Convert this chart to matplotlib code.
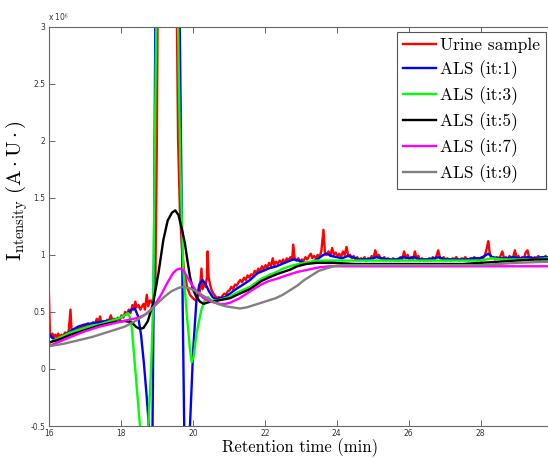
import matplotlib
matplotlib.use("Agg")
import matplotlib.pyplot as plt

plt.rcParams["mathtext.fontset"] = "cm"

# ---- Chromatogram and baseline estimates (intensity in units of 1e6) ----
red_t = [16.00, 16.03, 16.07, 16.10, 16.14, 16.18, 16.22, 16.26, 16.30, 16.35,
         16.40, 16.45, 16.50, 16.55, 16.60, 16.63, 16.68, 16.72, 16.78, 16.83,
         16.88, 16.93, 16.98, 17.03, 17.08, 17.13, 17.18, 17.23, 17.28, 17.33,
         17.37, 17.42, 17.46, 17.52, 17.57, 17.62, 17.67, 17.72, 17.76, 17.82,
         17.87, 17.92, 17.97, 18.02, 18.07, 18.12, 18.17, 18.22, 18.27, 18.32,
         18.36, 18.40, 18.44, 18.49, 18.54, 18.59, 18.63, 18.67, 18.72, 18.76,
         18.81, 18.86, 18.91, 18.96, 19.00, 19.03, 19.10, 19.30, 19.50, 19.55,
         19.59, 19.64, 19.70, 19.76, 19.84, 19.92, 20.00, 20.08, 20.14, 20.19,
         20.24, 20.27, 20.31, 20.35, 20.39, 20.41, 20.44, 20.48, 20.52, 20.57,
         20.62, 20.67, 20.72, 20.77, 20.82, 20.87, 20.92, 20.97, 21.02, 21.07,
         21.12, 21.17, 21.22, 21.27, 21.32, 21.37, 21.42, 21.47, 21.52, 21.57,
         21.62, 21.67, 21.72, 21.77, 21.82, 21.87, 21.92, 21.97, 22.02, 22.07,
         22.12, 22.17, 22.22, 22.26, 22.31, 22.36, 22.41, 22.46, 22.51, 22.56,
         22.61, 22.66, 22.71, 22.76, 22.79, 22.83, 22.88, 22.93, 22.98, 23.03,
         23.08, 23.13, 23.18, 23.23, 23.28, 23.32, 23.37, 23.42, 23.47, 23.52,
         23.57, 23.63, 23.67, 23.72, 23.77, 23.82, 23.87, 23.92, 23.97, 24.02,
         24.07, 24.12, 24.17, 24.22, 24.27, 24.32, 24.37, 24.42, 24.47, 24.52,
         24.57, 24.62, 24.67, 24.72, 24.77, 24.82, 24.87, 24.92, 24.97, 25.02,
         25.07, 25.12, 25.17, 25.22, 25.27, 25.32, 25.37, 25.42, 25.47, 25.52,
         25.57, 25.62, 25.67, 25.72, 25.77, 25.82, 25.87, 25.92, 25.97, 26.02,
         26.07, 26.12, 26.17, 26.22, 26.27, 26.32, 26.37, 26.42, 26.47, 26.52,
         26.57, 26.62, 26.67, 26.72, 26.77, 26.82, 26.87, 26.92, 26.97, 27.02,
         27.07, 27.12, 27.17, 27.22, 27.27, 27.32, 27.37, 27.42, 27.47, 27.52,
         27.57, 27.62, 27.67, 27.72, 27.77, 27.82, 27.87, 27.92, 27.97, 28.02,
         28.07, 28.12, 28.17, 28.21, 28.25, 28.30, 28.35, 28.40, 28.45, 28.50,
         28.55, 28.60, 28.65, 28.70, 28.75, 28.80, 28.85, 28.90, 28.95, 29.00,
         29.05, 29.10, 29.15, 29.20, 29.25, 29.30, 29.35, 29.40, 29.45, 29.50,
         29.55, 29.60, 29.65, 29.70, 29.75, 29.80, 29.87]
red_y = [0.66, 0.30, 0.28, 0.31, 0.27, 0.30, 0.28, 0.31, 0.28, 0.30,
         0.29, 0.32, 0.31, 0.33, 0.52, 0.33, 0.35, 0.33, 0.36, 0.35,
         0.37, 0.36, 0.38, 0.37, 0.40, 0.38, 0.39, 0.41, 0.39, 0.44,
         0.40, 0.46, 0.40, 0.42, 0.41, 0.43, 0.42, 0.47, 0.43, 0.44,
         0.42, 0.45, 0.43, 0.47, 0.45, 0.50, 0.48, 0.52, 0.49, 0.56,
         0.52, 0.59, 0.54, 0.56, 0.52, 0.55, 0.57, 0.52, 0.65, 0.55,
         0.60, 0.58, 0.64, 0.80, 2.00, 3.60, 6.50, 8.00, 5.50, 3.30,
         2.00, 1.40, 1.05, 0.85, 0.72, 0.65, 0.62, 0.60, 0.63, 0.68,
         0.88, 0.70, 0.76, 0.72, 0.80, 1.03, 0.80, 0.74, 0.69, 0.66,
         0.64, 0.62, 0.63, 0.62, 0.64, 0.66, 0.65, 0.68, 0.69, 0.72,
         0.70, 0.74, 0.73, 0.76, 0.78, 0.76, 0.80, 0.78, 0.82, 0.80,
         0.83, 0.82, 0.86, 0.84, 0.88, 0.85, 0.90, 0.87, 0.91, 0.89,
         0.93, 0.90, 0.97, 0.91, 0.94, 0.92, 0.95, 0.93, 0.96, 0.93,
         0.97, 0.95, 0.98, 0.96, 1.09, 0.97, 0.95, 0.97, 0.94, 0.96,
         0.95, 0.98, 0.96, 0.99, 1.01, 0.97, 0.99, 0.97, 1.00, 0.98,
         1.03, 1.22, 1.02, 1.00, 1.03, 0.99, 1.06, 1.00, 1.02, 0.99,
         1.01, 0.98, 1.03, 1.00, 1.07, 0.99, 1.00, 0.97, 0.99, 0.96,
         0.98, 0.95, 0.97, 0.96, 0.98, 0.95, 0.97, 0.96, 0.99, 0.97,
         1.04, 0.98, 1.00, 0.97, 0.96, 0.98, 0.95, 0.97, 0.96, 0.95,
         0.97, 0.95, 0.96, 0.95, 0.98, 0.96, 1.03, 0.97, 1.00, 0.96,
         0.98, 0.96, 1.03, 0.97, 0.99, 0.95, 0.97, 0.95, 0.96, 0.95,
         0.97, 0.95, 0.98, 0.96, 0.99, 1.04, 0.97, 0.96, 0.98, 0.95,
         0.97, 0.96, 0.95, 0.97, 0.96, 0.98, 0.96, 0.95, 0.97, 0.96,
         0.98, 0.96, 0.95, 0.97, 0.96, 0.98, 0.96, 0.97, 0.96, 0.98,
         0.97, 1.00, 1.06, 1.12, 1.02, 0.97, 0.98, 0.96, 0.98, 0.97,
         0.99, 1.03, 0.97, 0.98, 0.96, 0.99, 0.97, 0.98, 1.04, 0.97,
         0.99, 0.96, 0.98, 0.97, 1.02, 1.04, 0.97, 0.98, 0.96, 0.98,
         0.97, 0.99, 0.96, 0.98, 0.97, 0.99, 0.97]

it1_t = [16.00, 16.05, 16.10, 16.20, 16.30, 16.40, 16.50, 16.60, 16.70, 16.80,
         16.90, 17.00, 17.20, 17.40, 17.60, 17.80, 18.00, 18.15, 18.30, 18.39,
         18.48, 18.56, 18.64, 18.72, 18.79, 18.84, 18.88, 18.92, 18.96, 19.05,
         19.30, 19.55, 19.62, 19.67, 19.72, 19.76, 19.83, 19.92, 20.01, 20.10,
         20.18, 20.27, 20.36, 20.45, 20.55, 20.65, 20.75, 20.90, 21.03, 21.20,
         21.40, 21.59, 21.80, 21.96, 22.10, 22.33, 22.55, 22.79, 22.95, 23.10,
         23.26, 23.45, 23.63, 23.73, 23.85, 24.00, 24.15, 24.30, 24.45, 24.60,
         24.80, 25.00, 25.10, 25.25, 25.45, 25.65, 25.85, 26.00, 26.15, 26.30,
         26.50, 26.70, 26.85, 27.00, 27.20, 27.40, 27.60, 27.80, 28.00, 28.10,
         28.21, 28.32, 28.50, 28.70, 28.90, 29.10, 29.30, 29.50, 29.70, 29.87]
it1_y = [0.31, 0.29, 0.27, 0.25, 0.26, 0.29, 0.31, 0.33, 0.35, 0.37,
         0.38, 0.39, 0.40, 0.41, 0.42, 0.43, 0.45, 0.48, 0.52, 0.53,
         0.46, 0.30, 0.05, -0.25, -0.55, -0.70, -0.50, 1.00, 3.20, 6.00,
         7.50, 5.00, 3.50, 2.00, 0.50, -0.50, -0.80, -0.50, 0.17, 0.60,
         0.74, 0.78, 0.74, 0.68, 0.63, 0.61, 0.62, 0.63, 0.66, 0.70,
         0.74, 0.78, 0.84, 0.86, 0.88, 0.90, 0.93, 0.96, 0.95, 0.93,
         0.93, 0.96, 1.00, 1.01, 0.99, 0.98, 0.97, 0.99, 0.98, 0.96,
         0.96, 0.97, 0.98, 0.97, 0.96, 0.96, 0.98, 0.97, 0.98, 0.96,
         0.96, 0.97, 0.98, 0.96, 0.96, 0.96, 0.96, 0.97, 0.97, 0.99,
         1.01, 0.98, 0.97, 0.97, 0.98, 0.97, 0.98, 0.97, 0.98, 0.98]

it3_t = [16.00, 16.20, 16.40, 16.60, 16.80, 17.00, 17.20, 17.40, 17.60, 17.80,
         18.00, 18.10, 18.20, 18.25, 18.30, 18.40, 18.53, 18.65, 18.76, 18.84,
         18.90, 18.98, 19.10, 19.30, 19.50, 19.59, 19.65, 19.73, 19.82, 19.92,
         19.97, 20.02, 20.10, 20.24, 20.33, 20.42, 20.52, 20.65, 20.80, 21.00,
         21.30, 21.59, 21.90, 22.10, 22.33, 22.51, 22.80, 23.10, 23.44, 23.80,
         24.20, 24.60, 25.00, 25.40, 25.80, 26.20, 26.60, 27.00, 27.40, 27.80,
         28.00, 28.30, 28.60, 29.00, 29.40, 29.87]
it3_y = [0.23, 0.26, 0.29, 0.32, 0.34, 0.36, 0.38, 0.39, 0.41, 0.43,
         0.45, 0.47, 0.49, 0.45, 0.37, 0.00, -0.50, -0.90, -0.50, 0.00,
         0.60, 3.00, 6.00, 7.00, 4.50, 3.00, 1.80, 0.90, 0.52, 0.17,
         0.06, 0.10, 0.31, 0.52, 0.60, 0.63, 0.60, 0.60, 0.61, 0.63,
         0.68, 0.72, 0.79, 0.82, 0.85, 0.88, 0.91, 0.93, 0.95, 0.95,
         0.95, 0.95, 0.95, 0.95, 0.95, 0.95, 0.95, 0.95, 0.95, 0.95,
         0.95, 0.97, 0.96, 0.96, 0.96, 0.97]

it5_t = [16.00, 16.30, 16.60, 17.00, 17.40, 17.80, 18.10, 18.30, 18.42, 18.53,
         18.63, 18.75, 18.90, 19.05, 19.18, 19.30, 19.42, 19.51, 19.60, 19.70,
         19.78, 19.85, 19.92, 20.00, 20.10, 20.20, 20.30, 20.38, 20.50, 20.70,
         21.03, 21.30, 21.59, 21.90, 22.10, 22.33, 22.51, 22.70, 22.90, 23.15,
         23.44, 23.90, 24.50, 25.00, 25.50, 26.00, 26.50, 27.00, 27.50, 28.00,
         28.50, 29.00, 29.50, 29.87]
it5_y = [0.23, 0.26, 0.30, 0.34, 0.38, 0.41, 0.42, 0.41, 0.37, 0.35,
         0.36, 0.42, 0.58, 0.85, 1.13, 1.30, 1.37, 1.39, 1.35, 1.22,
         1.10, 0.95, 0.81, 0.70, 0.63, 0.59, 0.57, 0.58, 0.59, 0.60,
         0.62, 0.66, 0.70, 0.77, 0.80, 0.83, 0.85, 0.87, 0.90, 0.92,
         0.93, 0.93, 0.92, 0.92, 0.92, 0.92, 0.92, 0.92, 0.92, 0.93,
         0.94, 0.95, 0.96, 0.96]

it7_t = [16.00, 16.30, 16.60, 17.00, 17.40, 17.80, 18.20, 18.50, 18.70, 18.90,
         19.10, 19.30, 19.45, 19.55, 19.64, 19.72, 19.80, 19.95, 20.10, 20.30,
         20.50, 20.75, 20.90, 21.03, 21.30, 21.59, 21.90, 22.10, 22.33, 22.60,
         22.90, 23.20, 23.50, 23.80, 24.50, 25.50, 26.50, 27.50, 28.50, 29.87]
it7_y = [0.20, 0.24, 0.28, 0.33, 0.37, 0.40, 0.43, 0.45, 0.48, 0.54,
         0.64, 0.76, 0.84, 0.87, 0.88, 0.87, 0.83, 0.75, 0.68, 0.62,
         0.59, 0.57, 0.57, 0.58, 0.62, 0.68, 0.74, 0.77, 0.79, 0.82,
         0.85, 0.87, 0.89, 0.90, 0.90, 0.90, 0.90, 0.90, 0.90, 0.90]

it9_t = [16.00, 16.40, 16.80, 17.20, 17.50, 17.80, 18.10, 18.40, 18.60, 18.80,
         19.00, 19.20, 19.40, 19.60, 19.73, 19.90, 20.10, 20.30, 20.50, 20.70,
         20.90, 21.10, 21.31, 21.50, 21.70, 21.90, 22.10, 22.30, 22.50, 22.70,
         22.90, 23.10, 23.30, 23.50, 23.70, 23.90, 24.20, 24.60, 25.00, 25.50,
         26.00, 26.50, 27.00, 27.50, 28.00, 28.50, 29.00, 29.87]
it9_y = [0.20, 0.22, 0.25, 0.28, 0.31, 0.34, 0.37, 0.42, 0.46, 0.51,
         0.57, 0.63, 0.68, 0.71, 0.72, 0.71, 0.68, 0.64, 0.60, 0.57,
         0.55, 0.54, 0.53, 0.54, 0.56, 0.58, 0.60, 0.62, 0.65, 0.69,
         0.73, 0.78, 0.82, 0.86, 0.88, 0.90, 0.91, 0.91, 0.91, 0.91,
         0.91, 0.91, 0.91, 0.91, 0.91, 0.92, 0.93, 0.94]

series = [
    ("Urine sample", red_t, red_y, "#ff0000"),
    ("ALS (it:1)", it1_t, it1_y, "#0000ff"),
    ("ALS (it:3)", it3_t, it3_y, "#00ff00"),
    ("ALS (it:5)", it5_t, it5_y, "#000000"),
    ("ALS (it:7)", it7_t, it7_y, "#ff00ff"),
    ("ALS (it:9)", it9_t, it9_y, "#808080"),
]

x_ticks = [16, 18, 20, 22, 24, 26, 28]
y_ticks = [-0.5, 0, 0.5, 1, 1.5, 2, 2.5, 3]
y_tick_labels = ["-0.5", "0", "0.5", "1", "1.5", "2", "2.5", "3"]

W, H = 548, 458
fig = plt.figure(figsize=(W / 100, H / 100), dpi=100)
left, right, top, bottom = 48.9, 548.0, 26.7, 426.0
ax = fig.add_axes([left / W, 1 - bottom / H, (right - left) / W, (bottom - top) / H])

for label, t, y, c in series:
    ax.plot(t, y, color=c, lw=1.7, label=label, solid_joinstyle="round")

ax.set_xlim(16, 29.87)
ax.set_ylim(-0.5, 3)
ax.set_xticks(x_ticks)
ax.set_xticklabels([str(v) for v in x_ticks])
ax.set_yticks(y_ticks)
ax.set_yticklabels(y_tick_labels)

spine_col = "#666666"
for s in ["left", "bottom", "top"]:
    ax.spines[s].set_color(spine_col)
    ax.spines[s].set_linewidth(0.8)
ax.spines["right"].set_visible(False)
ax.tick_params(direction="in", length=4, width=0.7, colors=spine_col,
               labelcolor="#333333", labelsize=5.5, pad=2.5, top=True, right=False)

fig.text(48 / W, 1 - 21 / H, r"x 10$^{6}$", fontsize=5.5, color="#333333",
         ha="left", va="baseline")

fig.text(300 / W, 1 - 452 / H, "Retention time (min)", family="cmr10",
         fontsize=12, ha="center", va="baseline")
fig.text(17 / W, 1 - 191 / H,
         r"$\mathrm{I_{ntensity}\ (A\cdot U\cdot)}$",
         fontsize=15, rotation=90, ha="center", va="center")

leg = ax.legend(loc="upper right", bbox_to_anchor=(545.7 / W, 1 - 31.7 / H),
                bbox_transform=fig.transFigure, borderaxespad=0,
                prop={"family": "cmr10", "size": 12.5},
                handlelength=1.9, handletextpad=0.2, labelspacing=0.42,
                borderpad=0.35, fancybox=False, framealpha=1)
leg.get_frame().set_edgecolor("#555555")
leg.get_frame().set_linewidth(0.8)

fig.savefig("out.png", dpi=100)
